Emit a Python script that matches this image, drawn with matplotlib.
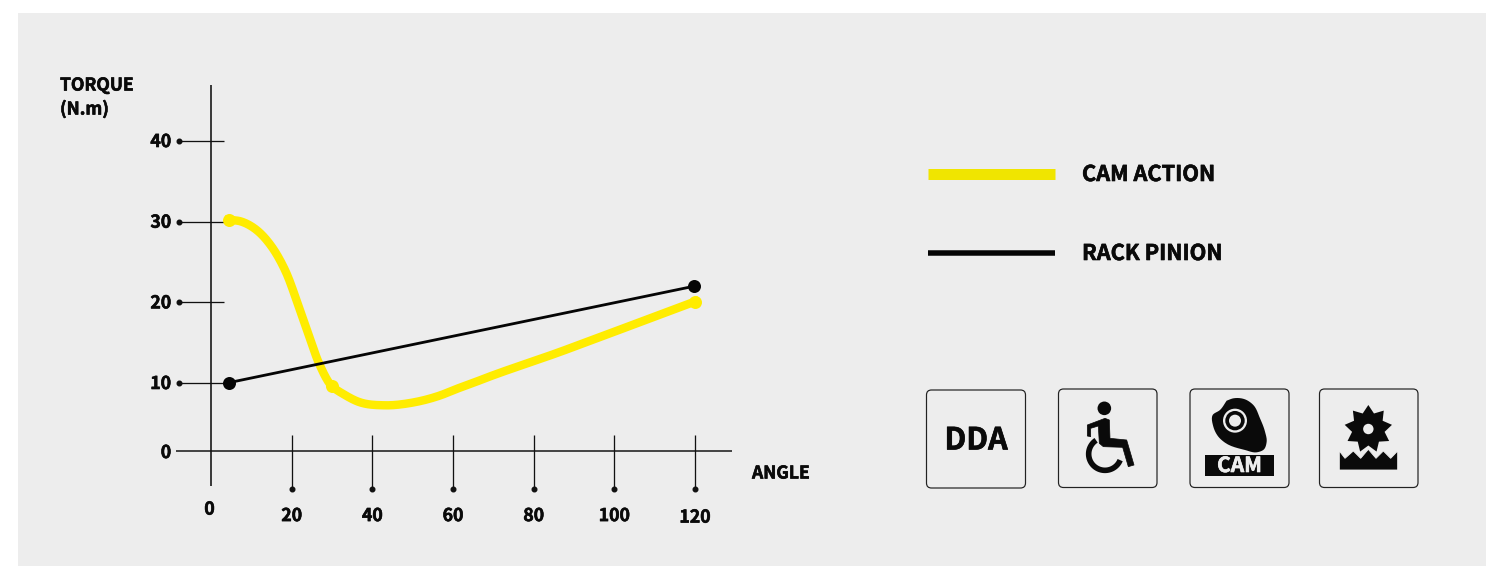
import numpy as np
import matplotlib
matplotlib.use("Agg")
import matplotlib.pyplot as plt
import matplotlib.patheffects as pe
from matplotlib.patches import Rectangle, FancyBboxPatch, Circle, Polygon
from matplotlib.transforms import ScaledTranslation

plt.rcParams['font.family'] = ['Noto Sans CJK SC', 'DejaVu Sans']
plt.rcParams['font.weight'] = 'bold'

# ---- data ----
angle_ticks = [0, 20, 40, 60, 80, 100, 120]
torque_ticks = [0, 10, 20, 30, 40]
cam_angle = [4.5, 7.6, 11.7, 15.05, 18.35, 21.6, 24.5, 26.6, 29.9, 33.2, 36.5, 43.1, 49.8, 56.4, 61.3, 87.8, 120.0]
cam_torque = [30.25, 30.0, 28.8, 26.9, 24.0, 19.7, 15.6, 12.65, 9.6, 8.24, 7.25, 6.72, 7.1, 8.09, 9.22, 14.09, 20.1]
cam_marker_angle = [4.5, 29.9, 120.0]
cam_marker_torque = [30.25, 9.6, 20.1]
rack_angle = [4.5, 119.8]
rack_torque = [10.05, 22.0]
series_names = ["CAM ACTION", "RACK PINION"]

YELLOW = '#FFEC00'
LEGEND_YELLOW = '#F0E500'
BG = '#EDEDED'
INK = '#0A0A0A'
W, H = 1486, 566


def smooth(x, y, n=16):
    """Hermite spline through the read points, chord-length parametrised."""
    x, y = np.asarray(x, float), np.asarray(y, float)
    u = np.r_[0, np.cumsum(np.hypot(np.diff(x), np.diff(y)))]
    mx, my = np.gradient(x, u), np.gradient(y, u)
    xs, ys = [], []
    for i in range(len(x) - 1):
        h = u[i + 1] - u[i]
        t = np.linspace(0, 1, n, endpoint=False)
        h00 = 2 * t ** 3 - 3 * t ** 2 + 1
        h10 = t ** 3 - 2 * t ** 2 + t
        h01 = -2 * t ** 3 + 3 * t ** 2
        h11 = t ** 3 - t ** 2
        xs.append(h00 * x[i] + h10 * h * mx[i] + h01 * x[i + 1] + h11 * h * mx[i + 1])
        ys.append(h00 * y[i] + h10 * h * my[i] + h01 * y[i + 1] + h11 * h * my[i + 1])
    return np.r_[np.concatenate(xs), x[-1]], np.r_[np.concatenate(ys), y[-1]]


def fwd(v):
    v = np.asarray(v, float)
    return np.where(v <= 10, 6.8 * v, 68 + 8.067 * (v - 10))


def inv(p):
    p = np.asarray(p, float)
    return np.where(p <= 68, p / 6.8, 10 + (p - 68) / 8.067)


px = 0.72  # points per pixel at dpi 100
fig = plt.figure(figsize=(W / 100, H / 100), dpi=100, facecolor='white')

# pixel overlay
ov = fig.add_axes([0, 0, 1, 1], zorder=0)
ov.set_xlim(0, W)
ov.set_ylim(H, 0)
ov.axis('off')
ov.add_patch(Rectangle((18, 13), W - 18, H - 13, fc=BG, ec='none'))

# chart axes
ax = fig.add_axes([211 / W, 1 - 451 / H, (695 - 211) / W, (451 - 141) / H], zorder=2)
ax.patch.set_alpha(0)
ax.set_xlim(0, 120)
ax.set_yscale('function', functions=(fwd, inv))
ax.set_ylim(0, 40)
for s in ax.spines.values():
    s.set_visible(False)
ax.set_xticks(angle_ticks, [str(a) for a in angle_ticks])
ax.set_yticks(torque_ticks, [str(t) for t in torque_ticks])
ax.minorticks_off()
ax.tick_params(axis='x', length=0, pad=40, labelsize=12.7, labelcolor=INK)
ax.tick_params(axis='y', length=0, pad=28.7, labelsize=12.7, labelcolor=INK)
for lbl, a in zip(ax.get_xticklabels(), angle_ticks):
    dy = {0: 6, 120: -2}.get(a, -0.5)
    dx = -1.5 if a == 0 else 0
    lbl.set_transform(lbl.get_transform() + ScaledTranslation(dx / 100, dy / 100, fig.dpi_scale_trans))
for lbl, t in zip(ax.get_yticklabels(), torque_ticks):
    lbl.set_transform(lbl.get_transform() + ScaledTranslation(0, (1 if t else 0) / 100, fig.dpi_scale_trans))

# axes and tick lines
lc = dict(color='#111111', clip_on=False, zorder=1, solid_capstyle='butt')
ax.plot([-8.7, 129.2], [0, 0], lw=1.5 * px, **lc)
ax.plot([0, 0], [-5.15, 46.9], lw=1.6 * px, **lc)
for t in torque_ticks[1:]:
    ax.plot([-7.9, 3.2], [t, t], lw=1.3 * px, **lc)
    ax.plot([-7.9], [t], 'o', ms=4.6 * px, color='#111111', clip_on=False, zorder=1)
for a in angle_ticks[1:]:
    ax.plot([a, a], [-5.6, 2.35], lw=1.3 * px, **lc)
    ax.plot([a], [-5.6], 'o', ms=4.6 * px, color='#111111', clip_on=False, zorder=1)

# series
sx, sy = smooth(cam_angle, cam_torque)
ax.plot(sx, sy, color=YELLOW, lw=8.4 * px, clip_on=False, zorder=3, solid_joinstyle='round')
ax.plot(cam_marker_angle, cam_marker_torque, 'o', ms=13 * px, color=YELLOW, mew=0, clip_on=False, zorder=3)
ax.plot(rack_angle, rack_torque, color='#050505', lw=2.8 * px, clip_on=False, zorder=4)
ax.plot(rack_angle, rack_torque, 'o', ms=13 * px, color='#050505', mew=0, clip_on=False, zorder=4)

# titles
ov.text(60, 85.5, "TORQUE", fontsize=12.6, va='center', ha='left', color=INK)
ov.text(60, 109.5, "(N.m)", fontsize=12.6, va='center', ha='left', color=INK)
ov.text(752, 473.5, "ANGLE", fontsize=12.6, va='center', ha='left', color=INK)

# legend
ov.add_line(plt.Line2D([928, 1055], [174, 174], color=LEGEND_YELLOW, lw=11 * px, solid_capstyle='butt'))
ov.add_line(plt.Line2D([928, 1055], [253, 253], color='#050505', lw=5.5 * px, solid_capstyle='butt'))
ov.text(1082, 174.5, series_names[0], fontsize=15.6, va='center', ha='left', color=INK)
ov.text(1082, 253.5, series_names[1], fontsize=15.6, va='center', ha='left', color=INK)

# icons
def box(x0, y0, x1, y1):
    ov.add_patch(FancyBboxPatch((x0 + 5, y0 + 5), x1 - x0 - 10, y1 - y0 - 10,
                                boxstyle='round,pad=5,rounding_size=5',
                                fc='none', ec='#222222', lw=1.2 * px))

box(926.5, 390, 1025.5, 488)
box(1058.5, 389, 1157, 487.5)
box(1190, 389, 1289, 487.5)
box(1319.5, 389, 1418, 487.5)

ov.text(976, 440.5, "DDA", fontsize=22, va='center', ha='center', color=INK)


def z(pts, ox, oy):
    return [(ox + a / 3, oy + b / 3) for a, b in pts]


# wheelchair
ox, oy = 1060, 390
ov.add_patch(Circle((ox + 133 / 3, oy + 55 / 3), 6.8, fc=INK, ec='none'))
ov.add_patch(Polygon(z([(82, 105), (135, 85), (148, 90), (150, 145), (200, 150), (222, 225), (205, 230),
                        (188, 172), (130, 170), (118, 160), (115, 108), (92, 115), (92, 140), (82, 138)], ox, oy),
                     closed=True, fc=INK, ec=INK, lw=0.5, joinstyle='round'))
t = np.radians(np.linspace(237, 22, 60))
ov.plot(ox + (135 + 49 * np.cos(t)) / 3, oy + (192 + 49 * np.sin(t)) / 3, color=INK, lw=5.6 * px,
        solid_capstyle='butt')

# cam
ox, oy = 1190, 390
blob = np.array([(110, 32), (130, 25), (165, 28), (190, 45), (210, 85), (225, 125), (230, 155), (222, 178),
                 (200, 187), (165, 180), (105, 158), (85, 140), (70, 110), (68, 75), (90, 60), (110, 32)], float)
bx, by = smooth(blob[:, 0], blob[:, 1], n=6)
ov.add_patch(Polygon(np.c_[ox + bx / 3, oy + by / 3], closed=True, fc=INK, ec='none'))
cc = (ox + 135 / 3, oy + 92 / 3)
ov.add_patch(Circle(cc, 12, fc=BG, ec='none'))
ov.add_patch(Circle(cc, 9.7, fc=INK, ec='none'))
ov.add_patch(Circle(cc, 6, fc=BG, ec='none'))
ov.add_patch(Rectangle((1205, 455), 69, 21, fc=INK, ec='none'))
ov.text(1239.5, 465.5, "CAM", fontsize=15, va='center', ha='center', color=BG)

# gear
ox, oy = 1320, 390
cx, cy = ox + 145 / 3, oy + 117 / 3
ang = np.radians(np.arange(18) * 20)
rad = np.where(np.arange(18) % 2 == 0, 24, 16.5)
ov.add_patch(Polygon(np.c_[cx + rad * np.sin(ang), cy - rad * np.cos(ang)], closed=True, fc=INK, ec='none'))
ov.add_patch(Circle((cx, cy), 5.2, fc=BG, ec='none'))
ov.add_patch(Polygon(z([(58, 183), (75, 205), (100, 183), (122, 205), (145, 178), (168, 205), (190, 183),
                        (212, 205), (233, 183), (233, 240), (58, 240)], ox, oy),
                     closed=True, fc=INK, ec=BG, lw=0.6))

# heavier strokes to reach the reference's weight
for txt in list(ov.texts) + ax.get_xticklabels() + ax.get_yticklabels():
    txt.set_path_effects([pe.withStroke(linewidth=0.45, foreground=txt.get_color())])

fig.savefig('out.png', dpi=100, facecolor='white')
